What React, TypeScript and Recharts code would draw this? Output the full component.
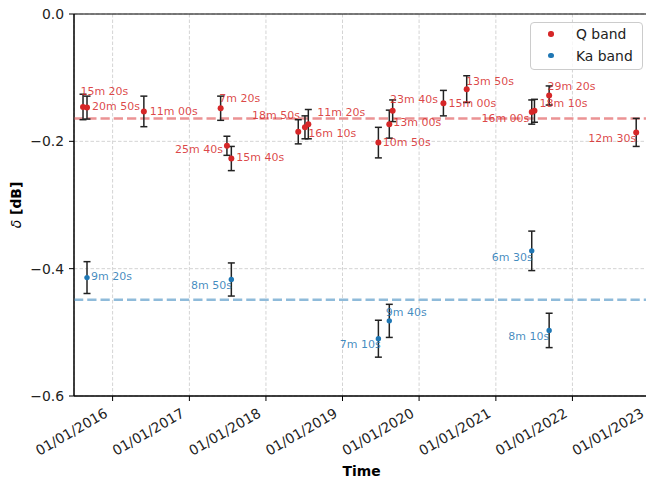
import {
  ScatterChart,
  Scatter,
  XAxis,
  YAxis,
  CartesianGrid,
  ErrorBar,
  ReferenceLine,
  ReferenceArea,
  Legend,
  Label,
} from 'recharts'

const FONT = '"DejaVu Sans", sans-serif'
const RED = '#d62728'
const BLUE = '#1f77b4'

// Q band measurements
const qDates = [
  '2015-08-13', '2015-09-01', '2016-05-29', '2017-05-30', '2017-06-29', '2017-07-20',
  '2018-06-04', '2018-07-06', '2018-07-22', '2019-06-21', '2019-08-12', '2019-08-28',
  '2020-04-26', '2020-08-15', '2021-06-21', '2021-07-04', '2021-09-12', '2022-11-01',
]
const qValues = [
  -0.146, -0.147, -0.153, -0.148, -0.207, -0.227, -0.185, -0.178, -0.173,
  -0.202, -0.173, -0.152, -0.14, -0.118, -0.154, -0.152, -0.128, -0.186,
]
const qErrors = [
  0.02, 0.018, 0.024, 0.019, 0.015, 0.019, 0.019, 0.018, 0.023,
  0.024, 0.022, 0.017, 0.02, 0.021, 0.019, 0.018, 0.015, 0.022,
]
const qLabels = [
  '15m 20s', '20m 50s', '11m 00s', '7m 20s', '25m 40s', '15m 40s', '18m 50s', '16m 10s', '11m 20s',
  '10m 50s', '13m 00s', '23m 40s', '15m 00s', '13m 50s', '16m 00s', '18m 10s', '29m 20s', '12m 30s',
]

// Ka band measurements
const kaDates = ['2015-09-01', '2017-07-20', '2019-06-21', '2019-08-12', '2021-06-21', '2021-09-12']
const kaValues = [-0.414, -0.417, -0.51, -0.482, -0.372, -0.497]
const kaErrors = [0.025, 0.026, 0.029, 0.026, 0.031, 0.027]
const kaLabels = ['9m 20s', '8m 50s', '7m 10s', '9m 40s', '6m 30s', '8m 10s']

const qMean = -0.164
const kaMean = -0.449

const tickDates = [
  '2016-01-01', '2017-01-01', '2018-01-01', '2019-01-01',
  '2020-01-01', '2021-01-01', '2022-01-01', '2023-01-01',
]
const yTicks = [-0.6, -0.4, -0.2, 0]

// annotation placement (dx, dy, anchor) relative to each point
type Place = [number, number, 'start' | 'end']
const qLabelPlace: Place[] = [
  [-2.6, -15, 'start'], [5, -1, 'start'], [6, 0, 'start'], [-1.4, -10, 'start'],
  [-4, 4, 'end'], [5, -1, 'start'], [1.7, -16.7, 'end'], [3.3, 6, 'start'],
  [9, -12, 'start'], [4.4, -0.6, 'start'], [4, -1.3, 'start'], [-2.7, -11.4, 'start'],
  [5, 0, 'start'], [-0.7, -7.6, 'start'], [-2.4, 6.6, 'end'], [5, -7.7, 'start'],
  [-1.7, -8.6, 'start'], [0, 6.3, 'end'],
]
const kaLabelPlace: Place[] = [
  [4, -1.4, 'start'], [0.7, 5.7, 'end'], [2.4, 6, 'end'],
  [-3.6, -8, 'start'], [1, 6.3, 'end'], [0, 6, 'end'],
]

const toTime = (d: string) => Date.parse(d + 'T00:00:00Z')
const xMin = toTime('2015-07-01')
const xMax = toTime('2023-01-01')

const qData = qDates.map((d, i) => ({ t: toTime(d), v: qValues[i], err: qErrors[i], label: qLabels[i], i }))
const kaData = kaDates.map((d, i) => ({ t: toTime(d), v: kaValues[i], err: kaErrors[i], label: kaLabels[i], i }))

const pad = (n: number) => String(n).padStart(2, '0')

function DateTick({ x, y, payload }: any) {
  const d = new Date(payload.value)
  const s = `${pad(d.getUTCDate())}/${pad(d.getUTCMonth() + 1)}/${d.getUTCFullYear()}`
  const ax = x - 4
  const ay = y + 15
  return (
    <text
      x={ax}
      y={ay}
      textAnchor="end"
      transform={`rotate(-30 ${ax} ${ay})`}
      fontSize={13.9}
      fontFamily={FONT}
      fill="#222"
    >
      {s}
    </text>
  )
}

function makeMarker(color: string, r: number, place: Place[]) {
  return (props: any) => {
    const { cx, cy, payload } = props
    const [dx, dy, anchor] = place[payload.i]
    return (
      <g>
        <circle cx={cx} cy={cy} r={r} fill={color} />
        <text
          x={cx + dx}
          y={cy + dy}
          textAnchor={anchor}
          dominantBaseline="central"
          fontSize={11}
          fontFamily={FONT}
          fill={color}
          fillOpacity={0.85}
        >
          {payload.label}
        </text>
      </g>
    )
  }
}

function LegendBox() {
  const items = [
    { name: 'Q band', color: RED, y: 11.6 },
    { name: 'Ka band', color: BLUE, y: 33.3 },
  ]
  return (
    <div
      style={{
        position: 'relative',
        width: 113,
        height: 48,
        boxSizing: 'border-box',
        border: '1px solid #cccccc',
        borderRadius: 4,
        background: 'rgba(255,255,255,0.8)',
        fontFamily: FONT,
        fontSize: 13.9,
        color: '#222',
      }}
    >
      {items.map((it) => (
        <div key={it.name}>
          <div
            style={{
              position: 'absolute',
              left: 17,
              top: it.y - 3,
              width: 5.5,
              height: 5.5,
              borderRadius: '50%',
              background: it.color,
            }}
          />
          <div style={{ position: 'absolute', left: 45, top: it.y - 9, lineHeight: '18px', whiteSpace: 'nowrap' }}>
            {it.name}
          </div>
        </div>
      ))}
    </div>
  )
}

export default function App() {
  return (
    <div
      style={{
        position: 'fixed',
        left: 0,
        top: 0,
        width: 646,
        height: 484,
        overflow: 'hidden',
        background: '#fff',
      }}
    >
      <ScatterChart width={660} height={484} margin={{ top: 14, right: 11, bottom: 0, left: 0 }}>
        <CartesianGrid stroke="#d4d4d4" strokeDasharray="3.5 2" />
        <XAxis
          type="number"
          dataKey="t"
          domain={[xMin, xMax]}
          ticks={tickDates.map(toTime)}
          allowDataOverflow
          height={88}
          tick={<DateTick />}
          tickSize={5}
          tickMargin={0}
          stroke="#000"
          interval={0}
        >
          <Label
            content={() => (
              <text
                x={361.5}
                y={471}
                textAnchor="middle"
                dominantBaseline="central"
                fontSize={13.9}
                fontWeight="bold"
                fontFamily={FONT}
                fill="#000"
              >
                Time
              </text>
            )}
          />
        </XAxis>
        <YAxis
          type="number"
          dataKey="v"
          domain={[-0.6, 0]}
          ticks={yTicks}
          width={74}
          tickSize={5}
          tickMargin={5}
          stroke="#000"
          tick={{ fill: '#222', fontSize: 13.9, fontFamily: FONT }}
          tickFormatter={(v: number) => (v === 0 ? '0.0' : '\u2212' + Math.abs(v).toFixed(1))}
          interval={0}
        >
          <Label
            content={() => (
              <text
                x={16}
                y={205}
                transform="rotate(-90 16 205)"
                textAnchor="middle"
                dominantBaseline="central"
                fontSize={13.9}
                fontWeight="bold"
                fontFamily={FONT}
                fill="#000"
              >
                <tspan fontStyle="italic" fontWeight="normal">δ</tspan> [dB]
              </text>
            )}
          />
        </YAxis>
        <ReferenceArea x1={xMin} x2={xMax} y1={-0.6} y2={0} fill="none" stroke="#000" strokeWidth={1} />
        <ReferenceLine y={qMean} stroke="#eb9394" strokeWidth={2.5} strokeDasharray="9.25 4" />
        <ReferenceLine y={kaMean} stroke="#8fbbda" strokeWidth={2.5} strokeDasharray="9.25 4" />
        <Scatter name="Q band" data={qData} fill={RED} isAnimationActive={false} shape={makeMarker(RED, 3, qLabelPlace)}>
          <ErrorBar dataKey="err" direction="y" width={3.5} stroke="#222" strokeWidth={1.5} />
        </Scatter>
        <Scatter name="Ka band" data={kaData} fill={BLUE} isAnimationActive={false} shape={makeMarker(BLUE, 2.7, kaLabelPlace)}>
          <ErrorBar dataKey="err" direction="y" width={3.5} stroke="#222" strokeWidth={1.5} />
        </Scatter>
        <Legend
          layout="vertical"
          align="center"
          verticalAlign="middle"
          wrapperStyle={{ position: 'absolute', left: 530, top: 21.7, width: 113, height: 48, margin: 0 }}
          content={() => <LegendBox />}
        />
      </ScatterChart>
    </div>
  )
}
